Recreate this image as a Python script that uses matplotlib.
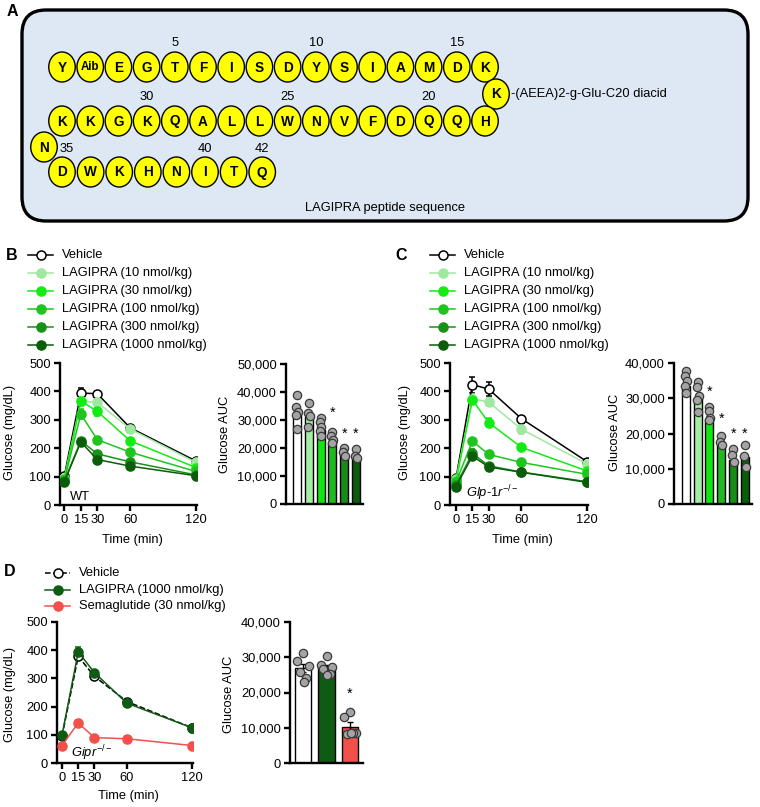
import matplotlib
matplotlib.use('Agg')
import matplotlib.pyplot as plt
from matplotlib.patches import FancyBboxPatch, Ellipse
from matplotlib.lines import Line2D
from matplotlib.ticker import FuncFormatter

plt.rcParams['font.family'] = ['Liberation Sans', 'DejaVu Sans']
plt.rcParams['mathtext.fontset'] = 'custom'
plt.rcParams['mathtext.rm'] = 'Liberation Sans'
plt.rcParams['mathtext.it'] = 'Liberation Sans:italic'

# ---------------- data ----------------
row1 = ['Y', 'Aib', 'E', 'G', 'T', 'F', 'I', 'S', 'D', 'Y', 'S', 'I', 'A', 'M', 'D', 'K']
side_res = 'K'
row2 = ['K', 'K', 'G', 'K', 'Q', 'A', 'L', 'L', 'W', 'N', 'V', 'F', 'D', 'Q', 'Q', 'H']
turn_res = 'N'
row3 = ['D', 'W', 'K', 'H', 'N', 'I', 'T', 'Q']
row1_numbers = {4: '5', 9: '10', 14: '15'}
row2_numbers = {3: '30', 8: '25', 13: '20'}
row3_numbers = {5: '40', 7: '42'}
side_chain = '-(AEEA)2-g-Glu-C20 diacid'
panel_a_caption = 'LAGIPRA peptide sequence'

time_min = [0, 15, 30, 60, 120]
dose_labels = ['Vehicle', 'LAGIPRA (10 nmol/kg)', 'LAGIPRA (30 nmol/kg)',
               'LAGIPRA (100 nmol/kg)', 'LAGIPRA (300 nmol/kg)', 'LAGIPRA (1000 nmol/kg)']

# Panel B (WT)
b_means = [[103, 394, 392, 272, 155],
           [95, 365, 362, 268, 150],
           [92, 366, 330, 226, 132],
           [88, 320, 230, 186, 118],
           [85, 226, 180, 152, 106],
           [82, 222, 160, 137, 103]]
b_sem = [[6, 18, 10, 8, 5],
         [5, 15, 15, 14, 5],
         [5, 15, 15, 8, 5],
         [5, 18, 8, 6, 5],
         [5, 8, 6, 6, 4],
         [4, 6, 5, 5, 4]]
b_auc = [32000, 31000, 26500, 22000, 17500, 16800]
b_auc_dots = [[38900, 34800, 33000, 31800, 26800],
              [36200, 32500, 31400, 27600],
              [30800, 29400, 27600, 26000, 24300],
              [25800, 24300, 22900, 21700],
              [19900, 18700, 17100],
              [19600, 17100, 16300]]
b_star_idx = [3, 4, 5]
b_star_y = [32600, 25000, 25000]

# Panel C (Glp-1r-/-)
c_means = [[94, 424, 408, 304, 153],
           [90, 375, 362, 267, 145],
           [85, 370, 290, 203, 120],
           [80, 225, 178, 150, 108],
           [70, 182, 138, 116, 82],
           [65, 172, 134, 115, 80]]
c_sem = [[5, 28, 25, 8, 5],
         [5, 15, 15, 18, 6],
         [5, 12, 15, 8, 5],
         [4, 8, 6, 6, 5],
         [4, 15, 10, 6, 4],
         [4, 10, 6, 5, 4]]
c_auc = [33500, 30000, 24000, 17000, 12500, 13200]
c_auc_dots = [[37600, 36200, 34800, 33400, 31500],
              [34500, 33200, 30500, 29600, 26000],
              [27500, 26500, 24400, 23900],
              [19300, 17700, 16800],
              [15500, 13900, 11800],
              [16600, 13600, 10600]]
c_star_idx = [2, 3, 4, 5]
c_star_y = [31700, 24200, 19900, 19900]

# Panel D (Gipr-/-)
d_labels = ['Vehicle', 'LAGIPRA (1000 nmol/kg)', 'Semaglutide (30 nmol/kg)']
d_means = [[95, 378, 307, 218, 125],
           [98, 394, 320, 212, 125],
           [62, 142, 90, 86, 62]]
d_sem = [[3, 12, 10, 8, 4],
         [3, 18, 8, 8, 4],
         [3, 10, 5, 10, 3]]
d_auc = [26900, 26900, 10100]
d_auc_sem = [1200, 800, 1600]
d_auc_dots = [[31300, 28800, 27500, 25900, 24000, 23100],
              [30300, 27800, 27200, 26600, 25300, 25000],
              [14500, 13000, 8600, 8300, 8500, 8400]]
d_star_idx = [2]
d_star_y = [19500]

# ---------------- styles ----------------
W, H = 760, 807
FS = 9.3
dose_colors = ['black', '#9fe89f', '#12ec12', '#1fc41f', '#169216', '#0b5c0b']
dose_face = ['white', '#9fe89f', '#12ec12', '#1fc41f', '#169216', '#0b5c0b']
bar_colors = ['white', '#a3eea3', '#12e612', '#22b822', '#178c17', '#0b5c0b']
d_colors = ['black', '#0e5c14', '#f2504a']
d_face = ['white', '#0e5c14', '#f2504a']
d_bar_colors = ['white', '#0e5c14', '#f2504a']
narrow_offsets = [0.0, -0.08, 0.08, -0.04, 0.04, 0.0]
wide_offsets = [0.0, -0.24, 0.24, -0.14, 0.14, 0.04]

fig = plt.figure(figsize=(W / 100, H / 100), dpi=100)

ov = fig.add_axes([0, 0, 1, 1])
ov.set_xlim(0, W)
ov.set_ylim(H, 0)
ov.axis('off')


def rect(l, t, r, b):
    return [l / W, 1 - b / H, (r - l) / W, (b - t) / H]


# ---------------- panel A ----------------
box = FancyBboxPatch((22, 10), 726, 211, boxstyle='round,pad=0,rounding_size=24',
                     facecolor='#dde8f4', edgecolor='black', linewidth=2.4)
ov.add_patch(box)


def residue(x, y, r):
    ov.add_patch(Ellipse((x, y), 26.5, 30, facecolor='#ffff00', edgecolor='black', linewidth=1.0))
    ov.text(x, y + 0.5, r, ha='center', va='center', fontweight='bold',
            fontsize=8.3 if len(r) > 1 else 9.8)


x0, sp = 62, 28.2
for i, r in enumerate(row1):
    residue(x0 + i * sp, 67, r)
for i, lab in row1_numbers.items():
    ov.text(x0 + i * sp, 43, lab, ha='center', va='center', fontsize=FS)
residue(496, 94, side_res)
ov.text(511, 94, side_chain, ha='left', va='center', fontsize=FS)
for i, r in enumerate(row2):
    residue(x0 + i * sp, 121, r)
for i, lab in row2_numbers.items():
    ov.text(x0 + i * sp, 97, lab, ha='center', va='center', fontsize=FS)
residue(44, 147, turn_res)
ov.text(67, 149, '35', ha='center', va='center', fontsize=FS)
sp3 = 28.6
for i, r in enumerate(row3):
    residue(x0 + i * sp3, 172, r)
for i, lab in row3_numbers.items():
    ov.text(x0 + i * sp3, 149, lab, ha='center', va='center', fontsize=FS)
ov.text(385, 208, panel_a_caption, ha='center', va='center', fontsize=FS)

# panel letters
for lab, x, y in [('A', 12, 12), ('B', 12, 255), ('C', 401, 255), ('D', 10, 572)]:
    ov.text(x, y, lab, ha='center', va='center', fontsize=11.5, fontweight='bold')


# ---------------- legends ----------------
def legend_entry(x0l, x1l, y, color, face, label, ls='-'):
    ov.add_line(Line2D([x0l, x1l], [y, y], color=color, lw=1.1, ls=ls))
    ov.plot([(x0l + x1l) / 2], [y], marker='o', ms=6.5, mfc=face, mec=color, mew=1.1)
    ov.text(x1l + 9, y, label, ha='left', va='center', fontsize=FS)


for i, lab in enumerate(dose_labels):
    legend_entry(28, 53, 255 + 18 * i, dose_colors[i], dose_face[i], lab)
    legend_entry(430, 455, 255 + 18 * i, dose_colors[i], dose_face[i], lab)
for i, lab in enumerate(d_labels):
    legend_entry(45, 70, 573 + 16.5 * i, d_colors[i], d_face[i], lab, ls='--' if i == 0 else '-')


# ---------------- helpers ----------------
def style(ax):
    for s in ['top', 'right']:
        ax.spines[s].set_visible(False)
    for s in ['left', 'bottom']:
        ax.spines[s].set_linewidth(1.7)
    ax.tick_params(width=1.7, length=4.5, labelsize=FS, pad=2)


def line_panel(r, xlim, means, sems, colors, faces, styles):
    ax = fig.add_axes(rect(*r))
    for m, s, c, f, ls in zip(means, sems, colors, faces, styles):
        ax.errorbar(time_min, m, yerr=s, fmt='o', ls=ls, color=c, mfc=f, mec=c, ms=6.5,
                    mew=1.1, lw=1.1, capsize=2.5, elinewidth=1.1, capthick=1.1, zorder=3)
    ax.set_xlim(*xlim)
    ax.set_ylim(0, 500)
    ax.set_xticks(time_min)
    ax.set_yticks([0, 100, 200, 300, 400, 500])
    style(ax)
    ax.patch.set_visible(False)
    return ax


def bar_panel(r, xlim, ymax, vals, dots, colors, star_idx, star_y, offsets,
              width=0.68, sems=None):
    ax = fig.add_axes(rect(*r))
    xs = list(range(len(vals)))
    ax.bar(xs, vals, width=width, color=colors, edgecolor='black', linewidth=1.0, zorder=2)
    if sems is not None:
        ax.errorbar(xs, vals, yerr=sems, fmt='none', ecolor='black', elinewidth=1.0,
                    capsize=2.5, zorder=2.5)
    for i, ds in enumerate(dots):
        ax.scatter([i + offsets[j % len(offsets)] for j in range(len(ds))], ds,
                   s=36, facecolor='#a4a4a4', edgecolor='#3a3a3a', linewidth=0.9, zorder=3)
    for i, y in zip(star_idx, star_y):
        ax.text(i, y, '*', ha='center', va='center', fontsize=FS + 1)
    ax.set_xlim(*xlim)
    ax.set_ylim(0, ymax)
    ax.set_xticks([])
    ax.set_yticks(range(0, ymax + 1, 10000))
    ax.yaxis.set_major_formatter(FuncFormatter(lambda v, p: f'{int(v):,}'))
    style(ax)
    ax.patch.set_visible(False)
    return ax


# ---------------- panel B ----------------
line_panel((60, 363, 197, 505), (-4, 121), b_means, b_sem, dose_colors, dose_face, ['-'] * 6)
ov.text(10, 432, 'Glucose (mg/dL)', rotation=90, ha='center', va='center', fontsize=FS)
ov.text(132, 540, 'Time (min)', ha='center', va='center', fontsize=FS)
ov.text(80, 497, 'WT', ha='center', va='center', fontsize=FS)
bar_panel((286, 364, 363, 504), (-0.93, 5.6), 50000, b_auc, b_auc_dots, bar_colors,
          b_star_idx, b_star_y, narrow_offsets)
ov.text(225, 434, 'Glucose AUC', rotation=90, ha='center', va='center', fontsize=FS)

# ---------------- panel C ----------------
line_panel((450, 363, 588, 505), (-5.5, 121), c_means, c_sem, dose_colors, dose_face, ['-'] * 6)
ov.text(405, 432, 'Glucose (mg/dL)', rotation=90, ha='center', va='center', fontsize=FS)
ov.text(522, 540, 'Time (min)', ha='center', va='center', fontsize=FS)
ov.text(492, 493, r'$\mathit{Glp}$-$\mathit{1r}^{-/-}$', ha='center', va='center', fontsize=FS)
bar_panel((674, 363, 752, 504), (-1.0, 5.6), 40000, c_auc, c_auc_dots, bar_colors,
          c_star_idx, c_star_y, narrow_offsets)
ov.text(615, 432, 'Glucose AUC', rotation=90, ha='center', va='center', fontsize=FS)

# ---------------- panel D ----------------
line_panel((57, 622, 193, 763), (-4.6, 121), d_means, d_sem, d_colors, d_face, ['--', '-', '-'])
ov.text(10, 694, 'Glucose (mg/dL)', rotation=90, ha='center', va='center', fontsize=FS)
ov.text(128, 796, 'Time (min)', ha='center', va='center', fontsize=FS)
ov.text(92, 753, r'$\mathit{Gipr}^{-/-}$', ha='center', va='center', fontsize=FS)
bar_panel((290, 622, 363, 763), (-0.55, 2.55), 40000, d_auc, d_auc_dots, d_bar_colors,
          d_star_idx, d_star_y, wide_offsets, sems=d_auc_sem)
ov.text(229, 694, 'Glucose AUC', rotation=90, ha='center', va='center', fontsize=FS)

fig.savefig('out.png', dpi=100)
